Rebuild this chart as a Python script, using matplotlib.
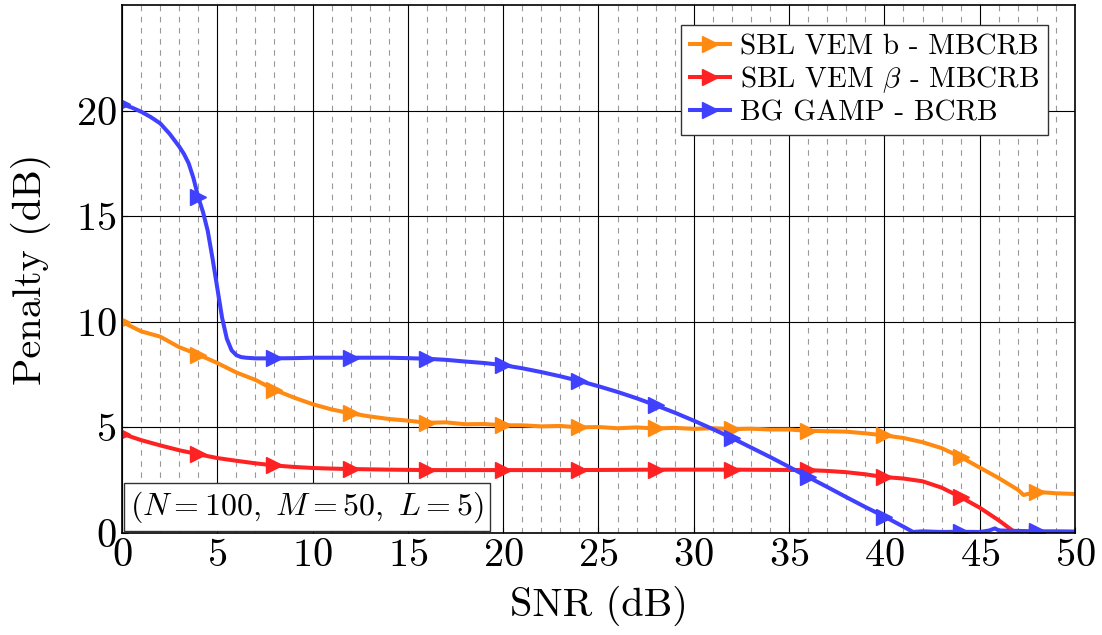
import numpy as np
import matplotlib.pyplot as plt
from matplotlib.offsetbox import AnchoredText
from matplotlib.ticker import MultipleLocator

plt.rcParams['font.family'] = 'cmr10'
plt.rcParams['mathtext.fontset'] = 'cm'
plt.rcParams['axes.unicode_minus'] = False
plt.rcParams['axes.formatter.use_mathtext'] = True

# SBL VEM b - MBCRB
snr_b = [0, 1, 2, 3, 4, 5, 6, 7, 8, 9, 10, 11, 12, 13, 14, 15, 16, 17, 18, 19,
         20, 21, 22, 23, 24, 25, 26, 27, 28, 29, 30, 31, 32, 33, 34, 35, 36, 37,
         38, 39, 40, 41, 42, 43, 44, 45, 46, 47, 47.3, 48, 49, 50]
pen_b = [10.0, 9.55, 9.3, 8.8, 8.45, 8.05, 7.6, 7.25, 6.78, 6.42, 6.1, 5.85,
         5.67, 5.52, 5.4, 5.32, 5.22, 5.24, 5.15, 5.16, 5.1, 5.1, 5.05, 5.07,
         5.0, 5.02, 4.96, 5.0, 4.95, 4.98, 4.93, 4.96, 4.92, 4.94, 4.9, 4.9,
         4.84, 4.82, 4.8, 4.72, 4.62, 4.5, 4.3, 4.02, 3.6, 3.1, 2.6, 2.05, 1.8,
         1.95, 1.88, 1.85]

# SBL VEM beta - MBCRB
snr_beta = [0, 1, 2, 3, 4, 5, 6, 7, 8, 9, 10, 11, 12, 14, 16, 20, 24, 28, 32,
            36, 37, 38, 39, 40, 41, 42, 43, 44, 45, 46, 46.9, 48, 49, 50]
pen_beta = [4.7, 4.4, 4.15, 3.92, 3.73, 3.55, 3.42, 3.3, 3.2, 3.13, 3.08,
            3.05, 3.03, 3.0, 2.98, 2.98, 2.98, 3.0, 3.0, 2.98, 2.94, 2.88,
            2.78, 2.65, 2.58, 2.45, 2.15, 1.7, 1.2, 0.6, 0.0, 0.0, 0.0, 0.0]

# BG GAMP - BCRB
snr_bg = [0, 0.5, 1, 1.5, 2, 2.5, 3, 3.25, 3.5, 3.75, 4, 4.25, 4.5, 4.75, 5,
          5.25, 5.5, 5.75, 6, 6.25, 6.5, 7, 8, 9, 10, 11, 12, 13, 14, 15, 16,
          17, 18, 19, 20, 21, 22, 23, 24, 25, 26, 27, 28, 29, 30, 31, 32, 33,
          34, 35, 36, 37, 38, 39, 40, 41, 41.5, 42, 43, 44, 45, 45.5, 45.8,
          46, 47, 48, 49, 50]
pen_bg = [20.3, 20.15, 19.95, 19.7, 19.4, 18.9, 18.3, 17.95, 17.5, 16.8,
          15.9, 15.2, 14.3, 13.0, 11.6, 10.2, 9.2, 8.65, 8.42, 8.33, 8.3, 8.27,
          8.27, 8.28, 8.3, 8.3, 8.3, 8.3, 8.3, 8.28, 8.25, 8.2, 8.12, 8.05,
          7.95, 7.8, 7.62, 7.42, 7.2, 6.95, 6.68, 6.38, 6.05, 5.7, 5.32, 4.92,
          4.5, 4.05, 3.6, 3.13, 2.65, 2.18, 1.7, 1.23, 0.78, 0.3, 0.05, 0.08,
          0.05, 0.06, 0.05, 0.12, 0.22, 0.12, 0.1, 0.08, 0.08, 0.07]

series = [
    (snr_b, pen_b, '#ff8a12', 'SBL VEM b - MBCRB'),
    (snr_beta, pen_beta, '#ff2222', r'SBL VEM $\beta$ - MBCRB'),
    (snr_bg, pen_bg, '#4040ff', 'BG GAMP - BCRB'),
]

fig = plt.figure(figsize=(11.02, 6.35), dpi=100)
ax = fig.add_axes([0.1107, 0.1606, 0.8648, 0.8315])

for x, y, color, label in series:
    x = np.asarray(x, dtype=float)
    marks = [i for i, v in enumerate(x) if v % 4 == 0]
    ax.plot(x, y, color=color, lw=2.9, marker='>', markersize=11,
            markevery=marks, label=label, solid_joinstyle='round')

ax.set_xlim(0, 50)
ax.set_ylim(0, 25)
ax.xaxis.set_major_locator(MultipleLocator(5))
ax.xaxis.set_minor_locator(MultipleLocator(1))
ax.set_yticks([0, 5, 10, 15, 20])

ax.grid(which='major', color='black', lw=0.8)
ax.grid(which='minor', axis='x', color='#999999', lw=0.8, ls=(0, (5, 5)))
ax.set_axisbelow(True)
for s in ax.spines.values():
    s.set_linewidth(1.2)

ax.tick_params(which='major', direction='in', length=4, labelsize=29, pad=4)
ax.tick_params(which='minor', length=0)

ax.set_xlabel('SNR (dB)', fontsize=29, labelpad=8)
ax.set_ylabel('Penalty (dB)', fontsize=29, labelpad=18)

leg = ax.legend(loc='upper right', fontsize=21, frameon=True, fancybox=False,
                framealpha=1, edgecolor='#333333', borderaxespad=0.6,
                handlelength=1.35, handletextpad=0.35, labelspacing=0.15,
                borderpad=0.3, bbox_to_anchor=(0.99, 0.995))
leg.get_frame().set_linewidth(1.0)

params = AnchoredText(r'$(N=100,\ M=50,\ L=5)$', loc='lower left',
                      prop=dict(fontsize=23), borderpad=0.05, pad=0.2,
                      frameon=True)
params.patch.set_boxstyle('square,pad=0')
params.patch.set_edgecolor('#333333')
ax.add_artist(params)

fig.savefig('out.png', dpi=100)
